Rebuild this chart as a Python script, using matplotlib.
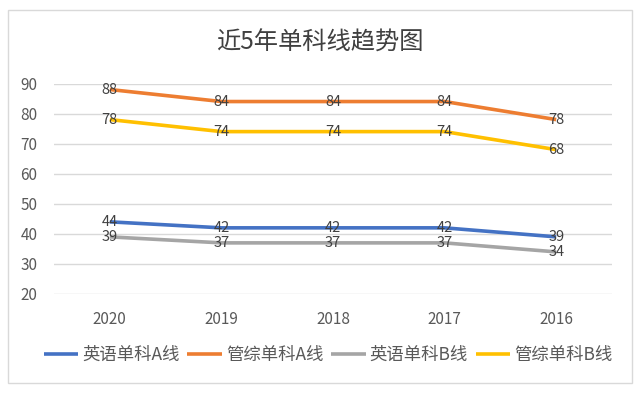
import matplotlib
matplotlib.use("Agg")
import matplotlib.pyplot as plt
from matplotlib.patches import Rectangle

plt.rcParams['font.family'] = ['Noto Sans CJK SC', 'DejaVu Sans']

title = "近5年单科线趋势图"
years = ["2020", "2019", "2018", "2017", "2016"]
series_names = ["英语单科A线", "管综单科A线", "英语单科B线", "管综单科B线"]
eng_a = [44, 42, 42, 42, 39]
mgmt_a = [88, 84, 84, 84, 78]
eng_b = [39, 37, 37, 37, 34]
mgmt_b = [78, 74, 74, 74, 68]
yticks = [20, 30, 40, 50, 60, 70, 80, 90]

colors = ["#4472C4", "#ED7D31", "#A5A5A5", "#FFC000"]
data = [eng_a, mgmt_a, eng_b, mgmt_b]

fig = plt.figure(figsize=(6.4, 3.93), dpi=100)
fig.patch.set_facecolor("white")
fig.patches.append(Rectangle((8/640, 1-383/393), 624/640, 373/393, transform=fig.transFigure,
                             fill=False, edgecolor="#d9d9d9", linewidth=1.0))

ax = fig.add_axes([54/640, 1-294/393, (612-54)/640, (294-83.5)/393])
x = list(range(len(years)))
for name, vals, c in zip(series_names, data, colors):
    ax.plot(x, vals, color=c, linewidth=2.6, label=name, solid_capstyle="butt")
    for xi, v in zip(x, vals):
        ax.text(xi, v, str(v), ha="center", va="center", fontsize=10.5, color="#404040")

ax.set_ylim(20, 90)
ax.set_xlim(-0.5, 4.5)
ax.set_yticks(yticks)
ax.set_xticks(x)
ax.set_xticklabels(years)
ax.tick_params(axis="both", length=0, labelsize=11, colors="#595959")
ax.tick_params(axis="x", pad=12)
ax.tick_params(axis="y", pad=12)
ax.grid(axis="y", color="#d9d9d9", linewidth=1.0)
ax.set_axisbelow(True)
for s in ax.spines.values():
    s.set_visible(False)

fig.text(320/640, 1-43/393, title, ha="center", va="center", fontsize=17.5, color="#404040")

leg = fig.legend(loc="center", bbox_to_anchor=(328/640, 1-355/393), ncol=4, frameon=False,
                 fontsize=12.5, handlelength=2.0, columnspacing=0.45, handletextpad=0.22,
                 labelcolor="#595959")

fig.savefig("out.png", dpi=100, facecolor="white")
